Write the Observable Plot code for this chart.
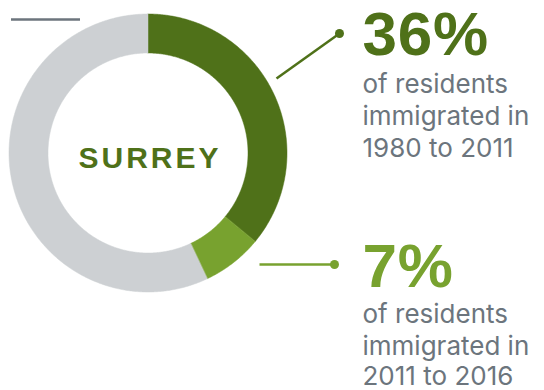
<!DOCTYPE html>
<html>
<head>
<meta charset="utf-8">
<script src="https://cdn.jsdelivr.net/npm/d3@7"></script>
<script src="https://cdn.jsdelivr.net/npm/@observablehq/plot@0.6"></script>
<style>
  html, body { margin: 0; padding: 0; background: #fff; }
  #chart svg { display: block; }
</style>
</head>
<body>
<div id="chart"></div>
<script>
// ---- data ----
const categories = ["Immigrated 1980 to 2011", "Immigrated 2011 to 2016", "Other residents"];
const shares = [36, 7, 57];
const sliceColors = ["#4f7119", "#78a22f", "#cdd0d3"];
const pctLabels = ["36%", "7%"];
const descLines = [
  ["of residents", "immigrated in", "1980 to 2011"],
  ["of residents", "immigrated in", "2011 to 2016"]
];
const centerLabel = ["SURREY"];

// ---- layout ----
const W = 544, H = 390;
const CX = 148, CY = 153, R_OUT = 139, R_IN = 100;
const labelX = 362;
const pctBaseline = [54, 286];
const descBaselines = [[92, 124, 156], [322, 354, 384]];
const leaderStart = [[276, 78], [259, 264]];
const leaderEnd = [[339, 33], [334, 264]];
const textGray = "#6c757d";

// build annular sectors from cumulative shares
const total = d3.sum(shares);
const arcPts = [];
let acc = 0;
shares.forEach((v, i) => {
  const a0 = acc / total * 2 * Math.PI;
  acc += v;
  const a1 = acc / total * 2 * Math.PI;
  const n = Math.max(2, Math.ceil((a1 - a0) / (Math.PI / 360)));
  for (let k = 0; k <= n; k++) {
    const a = a0 + (a1 - a0) * k / n;
    arcPts.push({
      cat: categories[i],
      ox: CX + R_OUT * Math.sin(a), oy: CY - R_OUT * Math.cos(a),
      ix: CX + R_IN * Math.sin(a), iy: CY - R_IN * Math.cos(a)
    });
  }
});

const pctData = pctLabels.map((t, i) => ({t, x: labelX, y: pctBaseline[i], c: sliceColors[i]}));
const descData = descLines.flatMap((lines, i) => lines.map((t, j) => ({t, x: labelX, y: descBaselines[i][j]})));
const leaders = leaderStart.map((s, i) => ({x1: s[0], y1: s[1], x2: leaderEnd[i][0], y2: leaderEnd[i][1], c: sliceColors[i]}));

const chart = Plot.plot({
  width: W, height: H, margin: 0,
  x: {domain: [0, W], range: [0, W], axis: null},
  y: {domain: [0, H], range: [0, H], axis: null},
  color: {domain: categories, range: sliceColors},
  style: {background: "#fff"},
  marks: [
    Plot.area(arcPts, {x1: "ox", y1: "oy", x2: "ix", y2: "iy", z: "cat", fill: "cat", curve: "linear", stroke: "cat", strokeWidth: 0.5}),
    Plot.ruleY([19], {x1: 11, x2: 80, stroke: "#6c757d", strokeWidth: 2.5}),
    Plot.link(leaders, {x1: "x1", y1: "y1", x2: "x2", y2: "y2", stroke: d => d.c, strokeWidth: 2.5}),
    Plot.dot(leaders, {x: "x2", y: "y2", r: 4.5, fill: d => d.c, stroke: null}),
    Plot.text(pctData, {x: "x", y: "y", text: "t", fill: d => d.c, textAnchor: "start", lineAnchor: "bottom",
      fontFamily: "Liberation Sans, Arial, sans-serif", fontWeight: "bold", fontSize: 62}),
    Plot.text(descData, {x: "x", y: "y", text: "t", fill: textGray, textAnchor: "start", lineAnchor: "bottom",
      fontFamily: "Inter, sans-serif", fontSize: 26}),
    Plot.text(centerLabel, {x: CX + 1.5, y: 167, text: d => d, fill: sliceColors[0], textAnchor: "middle", lineAnchor: "bottom",
      fontFamily: "Liberation Sans, Arial, sans-serif", fontWeight: "bold", fontSize: 30})
  ]
});
chart.querySelectorAll("text").forEach(t => {
  if (t.textContent === "SURREY") t.setAttribute("letter-spacing", "3");
  if (t.textContent === "36%" || t.textContent === "7%") t.setAttribute("letter-spacing", "0.8");
});
document.getElementById("chart").appendChild(chart);
</script>
</body>
</html>
